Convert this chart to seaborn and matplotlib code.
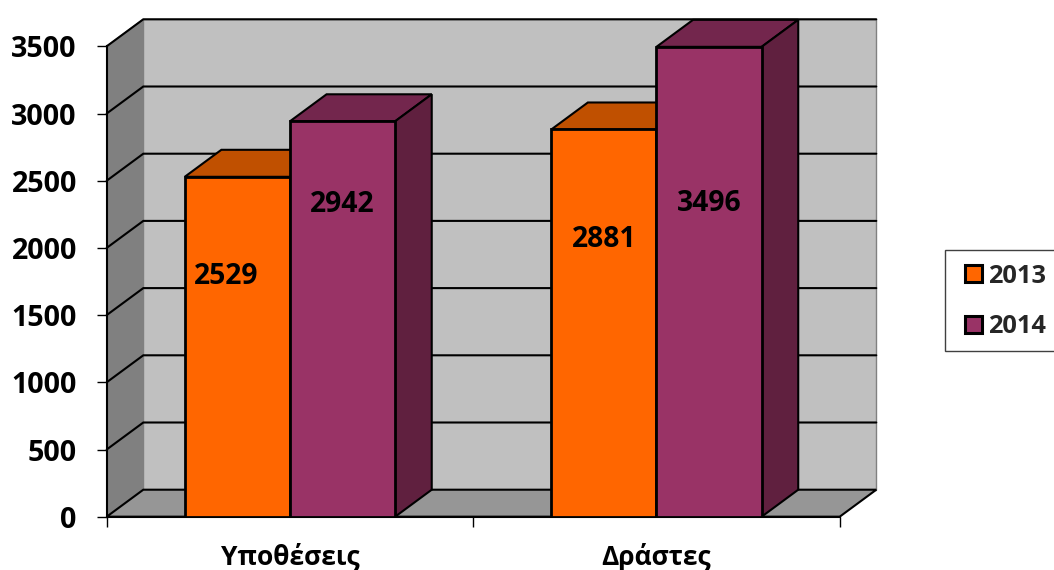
import pandas as pd
import seaborn as sns
from matplotlib import pyplot as plt
from matplotlib.patches import Polygon, Rectangle

categories = ["Υποθέσεις", "Δράστες"]
years = ["2013", "2014"]
values_2013 = [2529, 2881]
values_2014 = [2942, 3496]
y_ticks = [0, 500, 1000, 1500, 2000, 2500, 3000, 3500]

# height on the value axis where each number sits, the original chart floats them
label_heights_2013 = [1785, 2060]
label_heights_2014 = [2320, 2330]

colors = {"2013": "#FF6600", "2014": "#993366"}
top_colors = {"2013": "#C05000", "2014": "#73264D"}
side_colors = {"2013": "#C05000", "2014": "#60203F"}

sns.set_theme(style="white")
plt.rcParams["font.family"] = ["Open Sans", "DejaVu Sans"]
plt.rcParams["font.weight"] = "bold"

df = pd.DataFrame({
    "category": categories * 2,
    "year": [years[0]] * 2 + [years[1]] * 2,
    "value": values_2013 + values_2014,
})

W, H = 1054, 570
fig = plt.figure(figsize=(W / 100, H / 100), dpi=100)
ax = fig.add_axes([106.7 / W, 1 - 516.7 / H, 733 / W, 470.4 / H])

sns.barplot(data=df, x="category", y="value", hue="year", palette=colors,
            width=0.574, gap=0, edgecolor="black", linewidth=2,
            saturation=1, zorder=5, ax=ax)
ax.set_xlim(-0.5, 1.5)
ax.set_ylim(0, 3500)

# depth of the fake 3D box, in data units
dx = 36.6 / 366.5
dy = 27 / (470.4 / 3500)


def face(points, color, edge="black", lw=1.5, zorder=2):
    ax.add_patch(Polygon(points, closed=True, facecolor=color, edgecolor=edge,
                         linewidth=lw, zorder=zorder, clip_on=False))


x0, x1 = ax.get_xlim()
top = y_ticks[-1]

# walls and floor
face([(x0 + dx, dy), (x1 + dx, dy), (x1 + dx, top + dy), (x0 + dx, top + dy)],
     "#C0C0C0", edge="#808080", lw=1, zorder=1)
face([(x0, 0), (x0 + dx, dy), (x0 + dx, top + dy), (x0, top)],
     "#808080", edge="#808080", lw=1, zorder=1)
face([(x0, 0), (x1, 0), (x1 + dx, dy), (x0 + dx, dy)], "#969696", lw=1.5, zorder=1.5)

# gridlines run up the side wall and across the back wall
for t in y_ticks[1:]:
    ax.plot([x0, x0 + dx, x1 + dx], [t, t + dy, t + dy], color="black", lw=1.5,
            zorder=2, clip_on=False, solid_joinstyle="miter")

# top and side of each bar
for container, year in zip(ax.containers, years):
    for bar in container:
        left, right = bar.get_x(), bar.get_x() + bar.get_width()
        h = bar.get_height()
        face([(left, h), (right, h), (right + dx, h + dy), (left + dx, h + dy)],
             top_colors[year], lw=1.5, zorder=3)
        face([(right, 0), (right + dx, dy), (right + dx, h + dy), (right, h)],
             side_colors[year], lw=1.5, zorder=3)

# numbers on the bars
for container, vals, heights in zip(ax.containers, [values_2013, values_2014],
                                    [label_heights_2013, label_heights_2014]):
    for bar, v, h in zip(container, vals, heights):
        ax.annotate(str(v), (bar.get_x() + bar.get_width() / 2, h),
                    xytext=(-8 if v == 2529 else 0, 0), textcoords="offset points",
                    ha="center", va="center", fontsize=20.3, fontweight="bold",
                    color="black", zorder=6)

sns.despine(ax=ax, top=True, right=True)
for side in ["left", "bottom"]:
    ax.spines[side].set_color("black")
    ax.spines[side].set_linewidth(1.5)
    ax.spines[side].set_zorder(4)

ax.set_xlabel("")
ax.set_ylabel("")
ax.set_yticks(y_ticks)
ax.set_yticklabels([str(t) for t in y_ticks], fontsize=20.6, fontweight="bold", color="black")
ax.tick_params(axis="y", left=True, length=7.5, width=1, color="black", pad=14)

# ticks between the groups, names centred under them
ax.set_xticks([-0.5, 0.5, 1.5])
ax.set_xticklabels([])
ax.set_xticks([0, 1], minor=True)
ax.set_xticklabels(categories, minor=True, fontsize=19, fontweight="bold", color="black")
ax.tick_params(axis="x", which="major", bottom=True, length=7.5, width=1, color="black")
ax.tick_params(axis="x", which="minor", bottom=False, length=0, pad=19)

# legend box runs off the right edge, so the frame is drawn apart from the entries
fig.add_artist(Rectangle((944.7 / W, 1 - 351 / H), 130 / W, 101 / H, transform=fig.transFigure,
                         facecolor="white", edgecolor="#404040", linewidth=1))
handles, labels = ax.get_legend_handles_labels()
ax.get_legend().remove()
leg = fig.legend(handles, labels, loc="center left", bbox_to_anchor=(965 / W, 1 - 301.5 / H),
                 frameon=False, handlelength=0.66, handleheight=0.66, handletextpad=0.26,
                 labelspacing=1.0, borderpad=0, borderaxespad=0,
                 prop={"weight": "bold", "size": 18.3})
for patch in leg.get_patches():
    patch.set_linewidth(2.2)

fig.savefig("out.png", dpi=100, facecolor="white")
plt.close()
